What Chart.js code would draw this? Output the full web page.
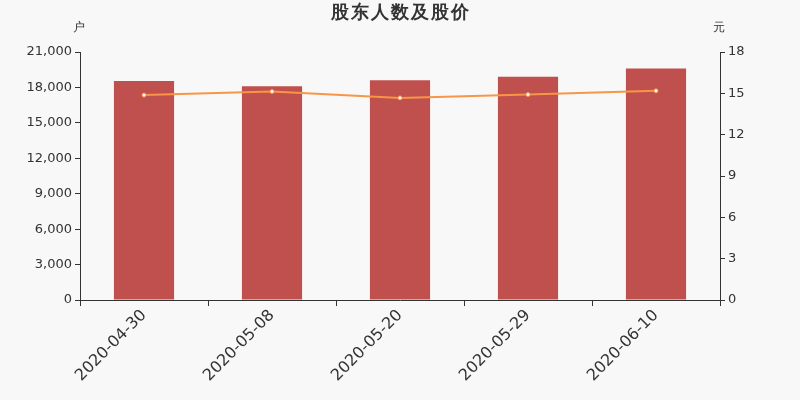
<!DOCTYPE html>
<html>
<head>
<meta charset="utf-8">
<script src="https://cdn.jsdelivr.net/npm/chart.js@4"></script>
<style>
  html, body { margin: 0; padding: 0; background: #f8f8f8; }
  #wrap { width: 800px; height: 400px; }
</style>
</head>
<body>
<div id="wrap"><canvas id="holderChart"></canvas></div>
<script>
  // data
  const dates = ['2020-04-30', '2020-05-08', '2020-05-20', '2020-05-29', '2020-06-10'];
  const holders = [18550, 18100, 18600, 18900, 19600];
  const prices = [14.87, 15.13, 14.67, 14.91, 15.18];
  const leftTicks = [0, 3000, 6000, 9000, 12000, 15000, 18000, 21000];
  const rightTicks = [0, 3, 6, 9, 12, 15, 18];

  const txt = '#333';
  const font = "'DejaVu Sans', sans-serif";

  // axis unit labels and title drawn above the plot
  const extras = {
    id: 'extras',
    afterDraw(chart) {
      const c = chart.ctx, a = chart.chartArea;
      c.save();
      c.fillStyle = txt;
      c.textAlign = 'center';
      c.textBaseline = 'middle';
      c.font = 'bold 18px ' + font;
      c.letterSpacing = '2px';
      c.fillText('股东人数及股价', chart.width / 2 + 1, 13);
      c.letterSpacing = '0px';
      c.font = '12px ' + font;
      c.fillText('户', a.left - 1, 28);
      c.fillText('元', a.right - 1, 28);
      c.restore();
    }
  };

  const axisGrid = { display: true, drawOnChartArea: false, drawTicks: true, tickLength: 5, color: txt };

  new Chart(document.getElementById('holderChart'), {
    data: {
      labels: dates,
      datasets: [{
        type: 'line',
        data: prices,
        yAxisID: 'y1',
        borderColor: '#f79646',
        borderWidth: 2,
        pointRadius: 2,
        pointBackgroundColor: '#fff',
        pointBorderColor: '#f79646',
        pointBorderWidth: 1,
        tension: 0
      }, {
        type: 'bar',
        data: holders,
        yAxisID: 'y',
        backgroundColor: '#c0504d',
        categoryPercentage: 1,
        barPercentage: 0.47
      }]
    },
    options: {
      responsive: true,
      maintainAspectRatio: false,
      animation: false,
      layout: { padding: { top: 52, left: 0, right: 0, bottom: 0 } },
      plugins: { legend: { display: false }, tooltip: { enabled: false } },
      scales: {
        x: {
          offset: true,
          grid: { ...axisGrid, offset: true, tickLength: 6 },
          border: { color: txt },
          ticks: { color: txt, font: { size: 16, family: font }, maxRotation: 45, minRotation: 45, padding: 0 },
          afterFit(s) { s.height = 100; }
        },
        y: {
          position: 'left',
          min: 0, max: 21000,
          afterBuildTicks(s) { s.ticks = leftTicks.map(v => ({ value: v })); },
          grid: axisGrid,
          border: { color: txt },
          ticks: {
            color: txt, font: { size: 13, family: font }, padding: 3,
            callback: v => v.toLocaleString('en-US')
          },
          afterFit(s) { s.width = 80; }
        },
        y1: {
          position: 'right',
          min: 0, max: 18,
          afterBuildTicks(s) { s.ticks = rightTicks.map(v => ({ value: v })); },
          grid: axisGrid,
          border: { color: txt },
          ticks: { color: txt, font: { size: 13, family: font }, padding: 3 },
          afterFit(s) { s.width = 80; }
        }
      }
    },
    plugins: [extras]
  });
</script>
</body>
</html>
